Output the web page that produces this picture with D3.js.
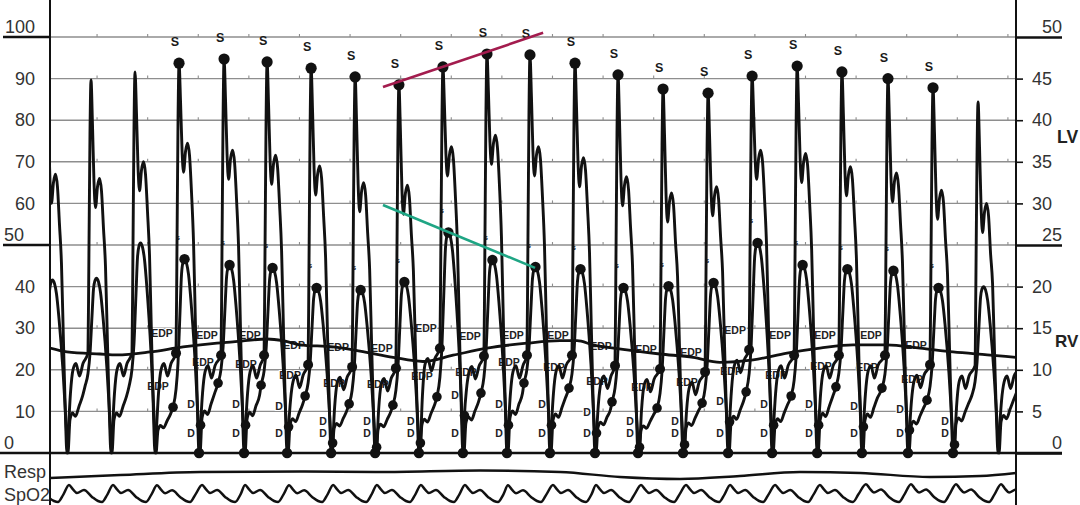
<!DOCTYPE html>
<html><head><meta charset="utf-8">
<script src="https://cdn.jsdelivr.net/npm/d3@7"></script>
<style>
html,body{margin:0;padding:0;background:#fff;}
svg{display:block;}
text{font-family:"Liberation Sans",Arial,Helvetica,sans-serif;}
</style></head><body>
<svg id="c" width="1080" height="505"></svg>
<script>
// ---------------- DATA ----------------
// beat times (s) = time of the LV systolic peak
const beatTime   = [-0.012, 0.162, 0.336, 0.510, 0.688, 0.858, 1.032, 1.206, 1.379, 1.553, 1.727, 1.897, 2.075, 2.245, 2.423, 2.601, 2.775, 2.953, 3.130, 3.312, 3.490, 3.668, 3.846];
// LV pressures (left scale, 0-100)
const lvSystolic = [88, 89.7, 91.6, 93.7, 94.7, 94, 92.5, 90.4, 88.5, 92.8, 95.9, 95.7, 93.7, 90.9, 87.5, 86.5, 90.6, 93, 91.6, 90, 87.8, 84.4, 86];
const lvDicrotic = [67, 66, 70, 74.5, 72.8, 71.6, 69, 65, 64.4, 73.6, 76.4, 73.6, 71, 66.4, 62.5, 64, 72.8, 72, 68.8, 67.3, 63.2, 60, 62];
const lvEdp      = [24, 24, 24, 24, 23.5, 23.5, 21.2, 20.7, 20.4, 25.2, 23.3, 23.5, 23.5, 21, 20.2, 19.5, 24.8, 23.5, 23.5, 23.5, 21.2, 21, 21];
const lvEarlyDia = [6, 6, 6, 6.7, 6.7, 6.3, 2.4, 1.4, 2.4, 9, 6.7, 6.7, 4.8, 1.4, 2, 7.5, 6.7, 6.7, 6.3, 5.5, 2, 6, 6];
// RV pressures (same drawing units as left scale)
const rvSystolic = [41.6, 42, 50.5, 46.6, 45.2, 44.5, 39.7, 39.2, 41.1, 53, 46.4, 44.7, 44.2, 39.7, 40.1, 40.9, 50.5, 45.2, 44.2, 43.8, 39.7, 40, 40];
const rvEdp      = [14, 16, 16, 11, 16.8, 16.3, 13.7, 11.8, 11.5, 13.5, 14.4, 16.8, 15.6, 12.3, 10.8, 12, 14.7, 13.7, 15.9, 15.6, 12.7, 14, 15];
// which beats carry the S / EDP / D markers
const marked     = [0, 0, 0, 1, 1, 1, 1, 1, 1, 1, 1, 1, 1, 1, 1, 1, 1, 1, 1, 1, 1, 0, 0];
// SpO2 pulse amplitude per beat (normalised)
const spo2Peak   = [1, 1, 1, 0.98, 1, 1, 0.98, 1, 1, 1, 1, 0.98, 1, 1, 1, 1, 1, 1, 1, 1.05, 1.05, 1.05, 1.05];
// slow thick baseline trace
const baseTime   = [0, 0.067, 0.198, 0.265, 0.395, 0.526, 0.66, 0.723, 0.858, 0.921, 0.988, 1.119, 1.225, 1.356, 1.474, 1.593, 1.727, 1.885, 2.016, 2.083, 2.146, 2.28, 2.411, 2.542, 2.648, 2.779, 2.913, 3.043, 3.174, 3.308, 3.439, 3.569, 3.704, 3.818];
const baseValue  = [25.2, 24.3, 23.8, 23.6, 24.3, 25.5, 26.4, 26.7, 27.4, 27, 26, 25.5, 24.5, 23, 22, 23.5, 25.2, 26.4, 27, 27, 26, 24.8, 23.8, 23, 21.8, 22.4, 24, 25.2, 26, 26, 25.2, 24.3, 23.6, 23];
// respiration
const respTime   = [0, 0.277, 0.593, 0.988, 1.304, 1.700, 2.016, 2.253, 2.490, 2.727, 2.964, 3.202, 3.478, 3.676, 3.818];
const respValue  = [2, 5, 8, 8.5, 8, 9.5, 8, 3, 1, 4, 8, 7, 3, 4, 7];
// axis ticks
const leftTicks  = [0, 10, 20, 30, 40, 50, 60, 70, 80, 90, 100];
const rightTicks = [0, 5, 10, 15, 20, 25, 30, 35, 40, 45, 50];
const chartTickTimes = d3.range(19).map(k => 0.186 + 0.2 * k);
// trend lines [time, value]
const trendSystolic = [[1.316, 88], [1.949, 101]];
const trendRv       = [[1.316, 59.6], [1.917, 44.5]];

// ---------------- SCALES ----------------
const svg = d3.select('#c');
const x = d3.scaleLinear().domain([0, 3.818]).range([50, 1016]);
const yL = d3.scaleLinear().domain([0, 100]).range([453, 37]);
const yR = d3.scaleLinear().domain([0, 50]).range([453, 37]);
const yResp = d3.scaleLinear().domain([0, 10]).range([480, 470]);
const ySp = d3.scaleLinear().domain([0, 1]).range([502, 485]);
const MS = 0.001;
const INK = '#111', GRID = '#8e8e8e', TXT = '#333';
const TW = 2.9;

svg.append('rect').attr('width', 1080).attr('height', 505).attr('fill', '#fff');
svg.append('defs').append('clipPath').attr('id', 'plot')
  .append('rect').attr('x', x(0)).attr('y', 0).attr('width', x(3.818) - x(0)).attr('height', 505);

// ---------------- GRID ----------------
const grid = svg.append('g');
leftTicks.filter(v => v > 0).forEach(v => {
  grid.append('line').attr('x1', x(0)).attr('x2', x(3.818)).attr('y1', yL(v)).attr('y2', yL(v))
    .attr('stroke', GRID).attr('stroke-width', 1.4);
  chartTickTimes.forEach(t => grid.append('line').attr('x1', x(t)).attr('x2', x(t))
    .attr('y1', yL(v)).attr('y2', yL(v) - 3).attr('stroke', GRID).attr('stroke-width', 1.1));
});

// ---------------- AXES ----------------
const gL = svg.append('g').attr('transform', `translate(${x(0)},0)`)
  .call(d3.axisLeft(yL).tickValues(leftTicks).tickSize(0).tickPadding(15));
gL.select('.domain').remove();
gL.selectAll('text').attr('font-size', 18).attr('fill', TXT).attr('font-family', '"Liberation Sans",Arial,sans-serif');
gL.selectAll('.tick').filter(d => d % 50 === 0).select('text').attr('dy', '-0.25em');
gL.selectAll('.tick').filter(d => d === 50 || d === 0).select('text').attr('text-anchor', 'start').attr('x', -46);
[100, 50].forEach(v => svg.append('line').attr('x1', 3).attr('x2', x(0)).attr('y1', yL(v)).attr('y2', yL(v))
  .attr('stroke', INK).attr('stroke-width', 2.4));

const gR = svg.append('g').attr('transform', `translate(${x(3.818)},0)`)
  .call(d3.axisRight(yR).tickValues(rightTicks).tickSize(7).tickPadding(9));
gR.select('.domain').remove();
gR.selectAll('line').attr('stroke', INK).attr('stroke-width', 1.6);
gR.selectAll('text').attr('font-size', 18).attr('fill', TXT).attr('font-family', '"Liberation Sans",Arial,sans-serif');
const major = gR.selectAll('.tick').filter(d => d % 25 === 0);
major.select('line').attr('x2', 46).attr('stroke-width', 2.4);
major.select('text').attr('text-anchor', 'end').attr('x', 46).attr('dy', '-0.25em');

svg.append('line').attr('x1', 0).attr('x2', x(3.818) + 46).attr('y1', yL(0)).attr('y2', yL(0))
  .attr('stroke', INK).attr('stroke-width', 2.6);
[x(0), x(3.818)].forEach(px => svg.append('line').attr('x1', px).attr('x2', px).attr('y1', 0).attr('y2', 505)
  .attr('stroke', INK).attr('stroke-width', 2));

svg.append('text').attr('x', 1057).attr('y', yR(38)).attr('dy', '0.35em').attr('font-size', 17.5)
  .attr('font-weight', 'bold').attr('fill', '#222').text('LV');
svg.append('text').attr('x', 1055).attr('y', yR(13.5)).attr('dy', '0.35em').attr('font-size', 17)
  .attr('font-weight', 'bold').attr('fill', '#222').text('RV');
svg.append('text').attr('x', 4).attr('y', 478).attr('font-size', 18).attr('fill', TXT).text('Resp');
svg.append('text').attr('x', 4).attr('y', 501).attr('font-size', 18).attr('fill', TXT).text('SpO2');

// ---------------- ANNOTATION LABELS (under traces) ----------------
const lab = svg.append('g').attr('font-weight', 'bold').attr('fill', '#222')
  .attr('stroke', '#fff').attr('stroke-width', 2.2).attr('paint-order', 'stroke')
  .attr('text-anchor', 'middle').attr('dominant-baseline', 'central');
beatTime.forEach((P, i) => {
  if (!marked[i]) return;
  const xp = x(P);
  lab.append('text').attr('x', xp - 17).attr('y', yL(lvEdp[i]) - 20).attr('font-size', 10.5).text('EDP');
  lab.append('text').attr('x', xp - 21).attr('y', yL(rvEdp[i]) - 21).attr('font-size', 10.5).text('EDP');
  lab.append('text').attr('x', xp + 12).attr('y', Math.min(yL(lvEarlyDia[i]) - 21, yL(0) - 32)).attr('font-size', 10.5).text('D');
  lab.append('text').attr('x', xp + 12).attr('y', yL(0) - 20).attr('font-size', 10.5).text('D');
  lab.append('text').attr('x', xp - 1).attr('y', yL(rvSystolic[i]) - 22).attr('font-size', 7).attr('stroke-width', 0).text('s');
});

// ---------------- TRACES ----------------
const traces = svg.append('g').attr('clip-path', 'url(#plot)');
const drawPath = (pts, w, yScale) => traces.append('path')
  .attr('d', d3.line().x(d => x(d[0])).y(d => (yScale || yL)(d[1])).curve(d3.curveMonotoneX)(pts))
  .attr('fill', 'none').attr('stroke', INK).attr('stroke-width', w)
  .attr('stroke-linejoin', 'round').attr('stroke-linecap', 'round');

drawPath(baseTime.map((t, i) => [t, baseValue[i]]), 2.8);

const lvPts = [];
beatTime.forEach((P, i) => {
  const S = lvSystolic[i], Hd = lvDicrotic[i], N = Hd - 7, E = lvEdp[i];
  [[-11.9, E], [-8.7, E + 0.3 * (S - E)], [-4, E + 0.8 * (S - E)], [0, S],
   [5.9, S - 0.35 * (S - N)], [11.9, S - 0.8 * (S - N)], [17.8, N], [25.7, Hd - 2], [33.6, Hd],
   [41.5, Hd - 3], [49.4, Hd - 12], [57.3, Hd * 0.68], [65.2, Hd * 0.4], [73.1, Hd * 0.13], [79, 0]]
    .forEach(([o, v]) => lvPts.push([P + o * MS, v]));
  if (i + 1 < beatTime.length) {
    const d = lvEarlyDia[i], En = lvEdp[i + 1];
    [[85, d], [92.9, d + 0.6 * (En - 4 - d)], [102.8, En - 4], [114.6, En - 2.5], [128.5, En - 5.5], [142.3, En - 2.5]]
      .forEach(([o, v]) => lvPts.push([P + o * MS, v]));
  }
});
drawPath(lvPts, TW);

const rvPts = [];
beatTime.forEach((P, i) => {
  const pk = rvSystolic[i], e = rvEdp[i], a = pk - e;
  [[-23.7, e], [-11.9, e + 0.12 * a], [-4, e + 0.3 * a], [4, e + 0.65 * a], [9.9, e + 0.9 * a], [15.8, e + 0.98 * a],
   [21.7, pk], [29.6, pk * 0.98], [37.6, pk * 0.92], [47.4, pk * 0.78], [63.2, pk * 0.48], [75.1, pk * 0.18], [83, 0]]
    .forEach(([o, v]) => rvPts.push([P + o * MS, v]));
  if (i + 1 < beatTime.length) {
    const en = rvEdp[i + 1];
    [[90.9, 0.5 * en], [100.8, 0.6 * en], [112.7, 0.55 * en], [126.5, 0.7 * en], [140.3, 0.85 * en]]
      .forEach(([o, v]) => rvPts.push([P + o * MS, v]));
  }
});
drawPath(rvPts, TW);

drawPath(respTime.map((t, i) => [t, respValue[i]]), 2.4, yResp);

const spPts = [];
beatTime.forEach((P, i) => {
  const pk = spo2Peak[i];
  [[-87, pk], [-71.2, 0.74 * pk], [-55.3, 0.53 * pk], [-27.7, 0.7 * pk], [4, 0.3], [27.7, 0.06], [43.5, 0], [65.2, 0.45]]
    .forEach(([o, v]) => spPts.push([P + o * MS, v]));
});
drawPath(spPts, 2.5, ySp);

// ---------------- DOTS ----------------
const dots = svg.append('g').attr('fill', INK);
const dot = (t, v, r) => dots.append('circle').attr('cx', x(t)).attr('cy', yL(v)).attr('r', r);
beatTime.forEach((P, i) => {
  if (!marked[i]) return;
  dot(P, lvSystolic[i], 5.6);
  dot(P + 21.7 * MS, rvSystolic[i], 5.2);
  dot(P + 79 * MS, 0, 5.2);
  dot(P + 85 * MS, lvEarlyDia[i], 4.8);
  dot(P - 23.7 * MS, rvEdp[i], 4.8);
  dot(P - 11.9 * MS, lvEdp[i], 5);
});

const sl = svg.append('g').attr('font-weight', 'bold').attr('fill', '#1a1a1a')
  .attr('text-anchor', 'middle').attr('dominant-baseline', 'central');
beatTime.forEach((P, i) => {
  if (!marked[i]) return;
  sl.append('text').attr('x', x(P) - 4).attr('y', yL(lvSystolic[i]) - 21).attr('font-size', 12.5).text('S');
});

// ---------------- TREND LINES ----------------
svg.append('path').attr('d', d3.line().x(d => x(d[0])).y(d => yL(d[1]))(trendSystolic))
  .attr('stroke', '#a31c4e').attr('stroke-width', 2.6).attr('fill', 'none');
svg.append('path').attr('d', d3.line().x(d => x(d[0])).y(d => yL(d[1]))(trendRv))
  .attr('stroke', '#1fa584').attr('stroke-width', 2.6).attr('fill', 'none');
</script>
</body></html>
